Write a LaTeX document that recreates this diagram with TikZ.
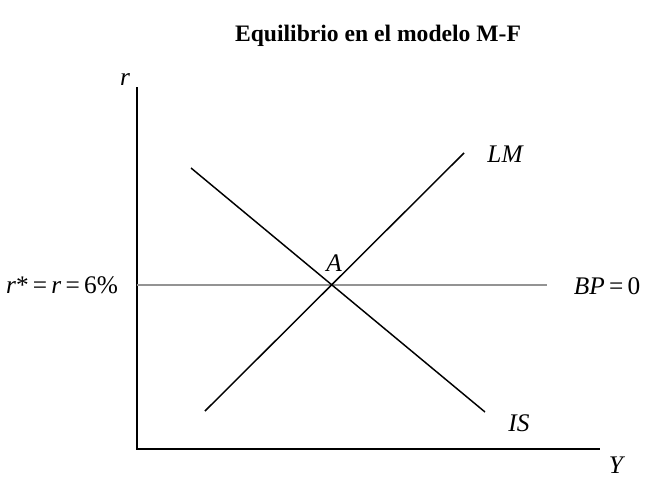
\documentclass[tikz,border=0pt]{standalone}
\usepackage{fontspec}
\setmainfont{Liberation Serif}
\usepackage{tikz}

\begin{document}
\begin{tikzpicture}[x=0.75pt,y=-0.75pt,font=\fontsize{18}{21}\selectfont,line cap=butt,
  axis/.style={black,line width=1.1pt},
  curve/.style={black,line width=1.1pt},
  bpline/.style={gray!85,line width=1.1pt},
  lbl/.style={inner sep=1pt,font=\fontsize{19}{22}\selectfont\itshape}]
\useasboundingbox (0,0) rectangle (648,478);
\node[font=\fontsize{17.7}{20}\selectfont\bfseries] (title) at (378,36) {Equilibrio en el modelo M-F};
% axes
\coordinate (O) at (137,449);
\coordinate (ytop) at (137,87);
\coordinate (xend) at (600,449);
\draw[axis] (ytop) -- (O) -- (xend);
\node[lbl] (rlab) at (125,80) {r};
\node[lbl] (Ylab) at (616,465) {Y};
% BP = 0
\coordinate (bpa) at (137,285);
\coordinate (bpb) at (547,285);
\draw[bpline] (bpa) -- (bpb);
\node[inner sep=1pt,font=\fontsize{19}{22}\selectfont] (bp) at (607,286) {\textit{BP}\,=\,0};
\node[inner sep=1pt,font=\fontsize{19}{22}\selectfont] (rstar) at (62,285) {\textit{r}*\,=\,\textit{r}\,=\,6\%};
% LM and IS
\coordinate (lma) at (205,411);
\coordinate (lmb) at (464,153);
\coordinate (isa) at (191,168);
\coordinate (isb) at (485,412);
\draw[curve] (lma) -- (lmb);
\draw[curve] (isa) -- (isb);
\node[lbl] (LM) at (505,154) {LM};
\node[lbl] (IS) at (519,423) {IS};
\node[lbl] (A) at (334,263) {A};
\end{tikzpicture}
\end{document}
